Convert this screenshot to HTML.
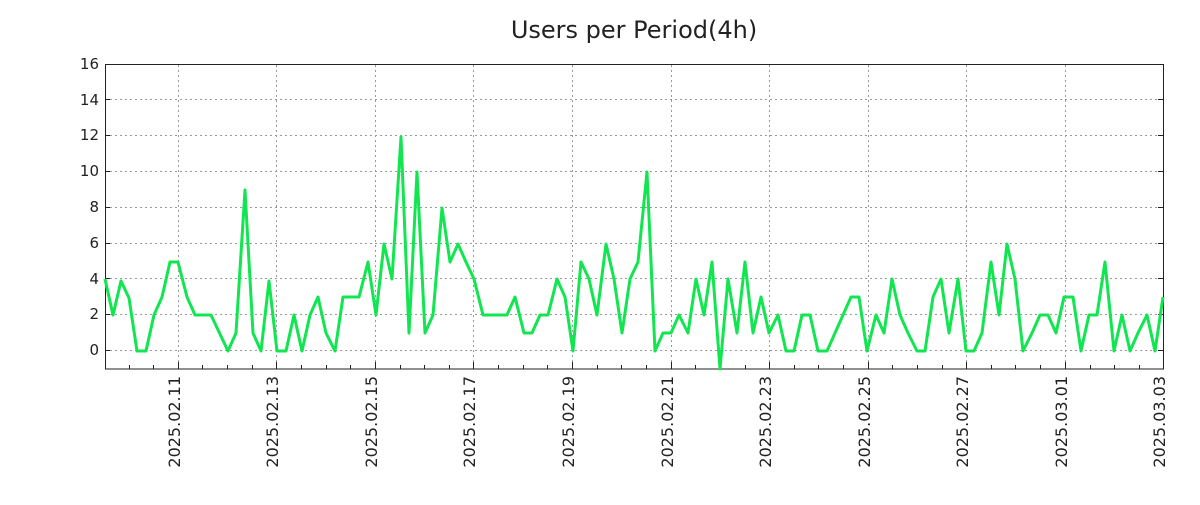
<!DOCTYPE html><html><head><style>body{margin:0;background:#fff}</style></head><body>
<svg width="1200" height="500" xmlns="http://www.w3.org/2000/svg" font-family="DejaVu Sans, Liberation Sans, sans-serif">
<rect width="1200" height="500" fill="#fff"/>
<text x="634" y="38" text-anchor="middle" font-size="24" fill="#222">Users per Period(4h)</text>
<g stroke="#999" stroke-dasharray="2,3" stroke-width="1">
<line x1="105" x2="1164" y1="350.5" y2="350.5"/><line x1="105" x2="1164" y1="314.5" y2="314.5"/><line x1="105" x2="1164" y1="278.5" y2="278.5"/><line x1="105" x2="1164" y1="243.5" y2="243.5"/><line x1="105" x2="1164" y1="207.5" y2="207.5"/><line x1="105" x2="1164" y1="171.5" y2="171.5"/><line x1="105" x2="1164" y1="135.5" y2="135.5"/><line x1="105" x2="1164" y1="99.5" y2="99.5"/>
<line x1="178.5" x2="178.5" y1="65" y2="369"/><line x1="276.5" x2="276.5" y1="65" y2="369"/><line x1="375.5" x2="375.5" y1="65" y2="369"/><line x1="473.5" x2="473.5" y1="65" y2="369"/><line x1="572.5" x2="572.5" y1="65" y2="369"/><line x1="671.5" x2="671.5" y1="65" y2="369"/><line x1="769.5" x2="769.5" y1="65" y2="369"/><line x1="868.5" x2="868.5" y1="65" y2="369"/><line x1="966.5" x2="966.5" y1="65" y2="369"/><line x1="1065.5" x2="1065.5" y1="65" y2="369"/>
</g>
<rect x="105.5" y="64.5" width="1058" height="304.5" fill="none" stroke="#222" stroke-width="1"/>
<g stroke="#222" stroke-width="1">
<line x1="105" x2="110" y1="350.5" y2="350.5"/><line x1="105" x2="110" y1="314.5" y2="314.5"/><line x1="105" x2="110" y1="278.5" y2="278.5"/><line x1="105" x2="110" y1="243.5" y2="243.5"/><line x1="105" x2="110" y1="207.5" y2="207.5"/><line x1="105" x2="110" y1="171.5" y2="171.5"/><line x1="105" x2="110" y1="135.5" y2="135.5"/><line x1="105" x2="110" y1="99.5" y2="99.5"/>
<line x1="1158" x2="1163" y1="350.5" y2="350.5"/><line x1="1158" x2="1163" y1="314.5" y2="314.5"/><line x1="1158" x2="1163" y1="278.5" y2="278.5"/><line x1="1158" x2="1163" y1="243.5" y2="243.5"/><line x1="1158" x2="1163" y1="207.5" y2="207.5"/><line x1="1158" x2="1163" y1="171.5" y2="171.5"/><line x1="1158" x2="1163" y1="135.5" y2="135.5"/><line x1="1158" x2="1163" y1="99.5" y2="99.5"/>
<line x1="178.5" x2="178.5" y1="369" y2="362"/><line x1="276.5" x2="276.5" y1="369" y2="362"/><line x1="375.5" x2="375.5" y1="369" y2="362"/><line x1="473.5" x2="473.5" y1="369" y2="362"/><line x1="572.5" x2="572.5" y1="369" y2="362"/><line x1="671.5" x2="671.5" y1="369" y2="362"/><line x1="769.5" x2="769.5" y1="369" y2="362"/><line x1="868.5" x2="868.5" y1="369" y2="362"/><line x1="966.5" x2="966.5" y1="369" y2="362"/><line x1="1065.5" x2="1065.5" y1="369" y2="362"/>
<line x1="129.5" x2="129.5" y1="369" y2="365"/><line x1="153.5" x2="153.5" y1="369" y2="365"/><line x1="202.5" x2="202.5" y1="369" y2="365"/><line x1="227.5" x2="227.5" y1="369" y2="365"/><line x1="252.5" x2="252.5" y1="369" y2="365"/><line x1="301.5" x2="301.5" y1="369" y2="365"/><line x1="326.5" x2="326.5" y1="369" y2="365"/><line x1="350.5" x2="350.5" y1="369" y2="365"/><line x1="400.5" x2="400.5" y1="369" y2="365"/><line x1="424.5" x2="424.5" y1="369" y2="365"/><line x1="449.5" x2="449.5" y1="369" y2="365"/><line x1="498.5" x2="498.5" y1="369" y2="365"/><line x1="523.5" x2="523.5" y1="369" y2="365"/><line x1="547.5" x2="547.5" y1="369" y2="365"/><line x1="597.5" x2="597.5" y1="369" y2="365"/><line x1="621.5" x2="621.5" y1="369" y2="365"/><line x1="646.5" x2="646.5" y1="369" y2="365"/><line x1="695.5" x2="695.5" y1="369" y2="365"/><line x1="720.5" x2="720.5" y1="369" y2="365"/><line x1="745.5" x2="745.5" y1="369" y2="365"/><line x1="794.5" x2="794.5" y1="369" y2="365"/><line x1="818.5" x2="818.5" y1="369" y2="365"/><line x1="843.5" x2="843.5" y1="369" y2="365"/><line x1="892.5" x2="892.5" y1="369" y2="365"/><line x1="917.5" x2="917.5" y1="369" y2="365"/><line x1="942.5" x2="942.5" y1="369" y2="365"/><line x1="991.5" x2="991.5" y1="369" y2="365"/><line x1="1015.5" x2="1015.5" y1="369" y2="365"/><line x1="1040.5" x2="1040.5" y1="369" y2="365"/><line x1="1090.5" x2="1090.5" y1="369" y2="365"/><line x1="1114.5" x2="1114.5" y1="369" y2="365"/><line x1="1139.5" x2="1139.5" y1="369" y2="365"/>
</g>
<g font-size="15" fill="#222" text-anchor="end">
<text x="99" y="355">0</text><text x="99" y="319">2</text><text x="99" y="284">4</text><text x="99" y="248">6</text><text x="99" y="212">8</text><text x="99" y="176">10</text><text x="99" y="140">12</text><text x="99" y="105">14</text><text x="99" y="69">16</text>
</g>
<g font-size="16" fill="#222" text-anchor="end">
<text transform="translate(180,376) rotate(-90)">2025.02.11</text>
<text transform="translate(278,376) rotate(-90)">2025.02.13</text>
<text transform="translate(377,376) rotate(-90)">2025.02.15</text>
<text transform="translate(475,376) rotate(-90)">2025.02.17</text>
<text transform="translate(574,376) rotate(-90)">2025.02.19</text>
<text transform="translate(673,376) rotate(-90)">2025.02.21</text>
<text transform="translate(771,376) rotate(-90)">2025.02.23</text>
<text transform="translate(870,376) rotate(-90)">2025.02.25</text>
<text transform="translate(968,376) rotate(-90)">2025.02.27</text>
<text transform="translate(1067,376) rotate(-90)">2025.03.01</text>
<text transform="translate(1165,376) rotate(-90)">2025.03.03</text>
</g>
<polyline fill="none" stroke="#11e650" stroke-width="3" stroke-linejoin="round" points="105,279 113,315 121,281 129,298 137,351 146,351 154,315 162,297 170,262 178,262 187,297 195,315 203,315 211,315 228,351 236,333 245,190 253,333 261,351 269,281 277,351 286,351 294,315 302,351 310,315 318,297 326,333 335,351 343,297 351,297 359,297 368,262 376,315 384,244 392,279 401,137 409,333 417,172 425,333 433,315 442,208 450,262 458,244 466,262 474,279 483,315 491,315 499,315 507,315 515,297 524,333 532,333 540,315 548,315 557,279 565,297 573,351 581,262 589,279 597,315 606,244 614,279 622,333 630,279 638,262 647,172 655,351 663,333 671,333 679,315 688,333 696,279 704,315 712,262 720,369 728,279 737,333 745,262 753,333 761,297 769,333 778,315 786,351 794,351 802,315 810,315 818,351 827,351 835,333 843,315 851,297 859,297 867,351 876,315 884,333 892,279 900,315 908,333 917,351 925,351 933,297 941,279 949,333 958,279 966,351 974,351 982,333 991,262 999,315 1007,244 1015,279 1023,351 1032,333 1040,315 1048,315 1056,333 1064,297 1073,297 1081,351 1089,315 1097,315 1105,262 1114,351 1122,315 1130,351 1138,333 1147,315 1155,351 1163,297"/>
</svg>
</body></html>
